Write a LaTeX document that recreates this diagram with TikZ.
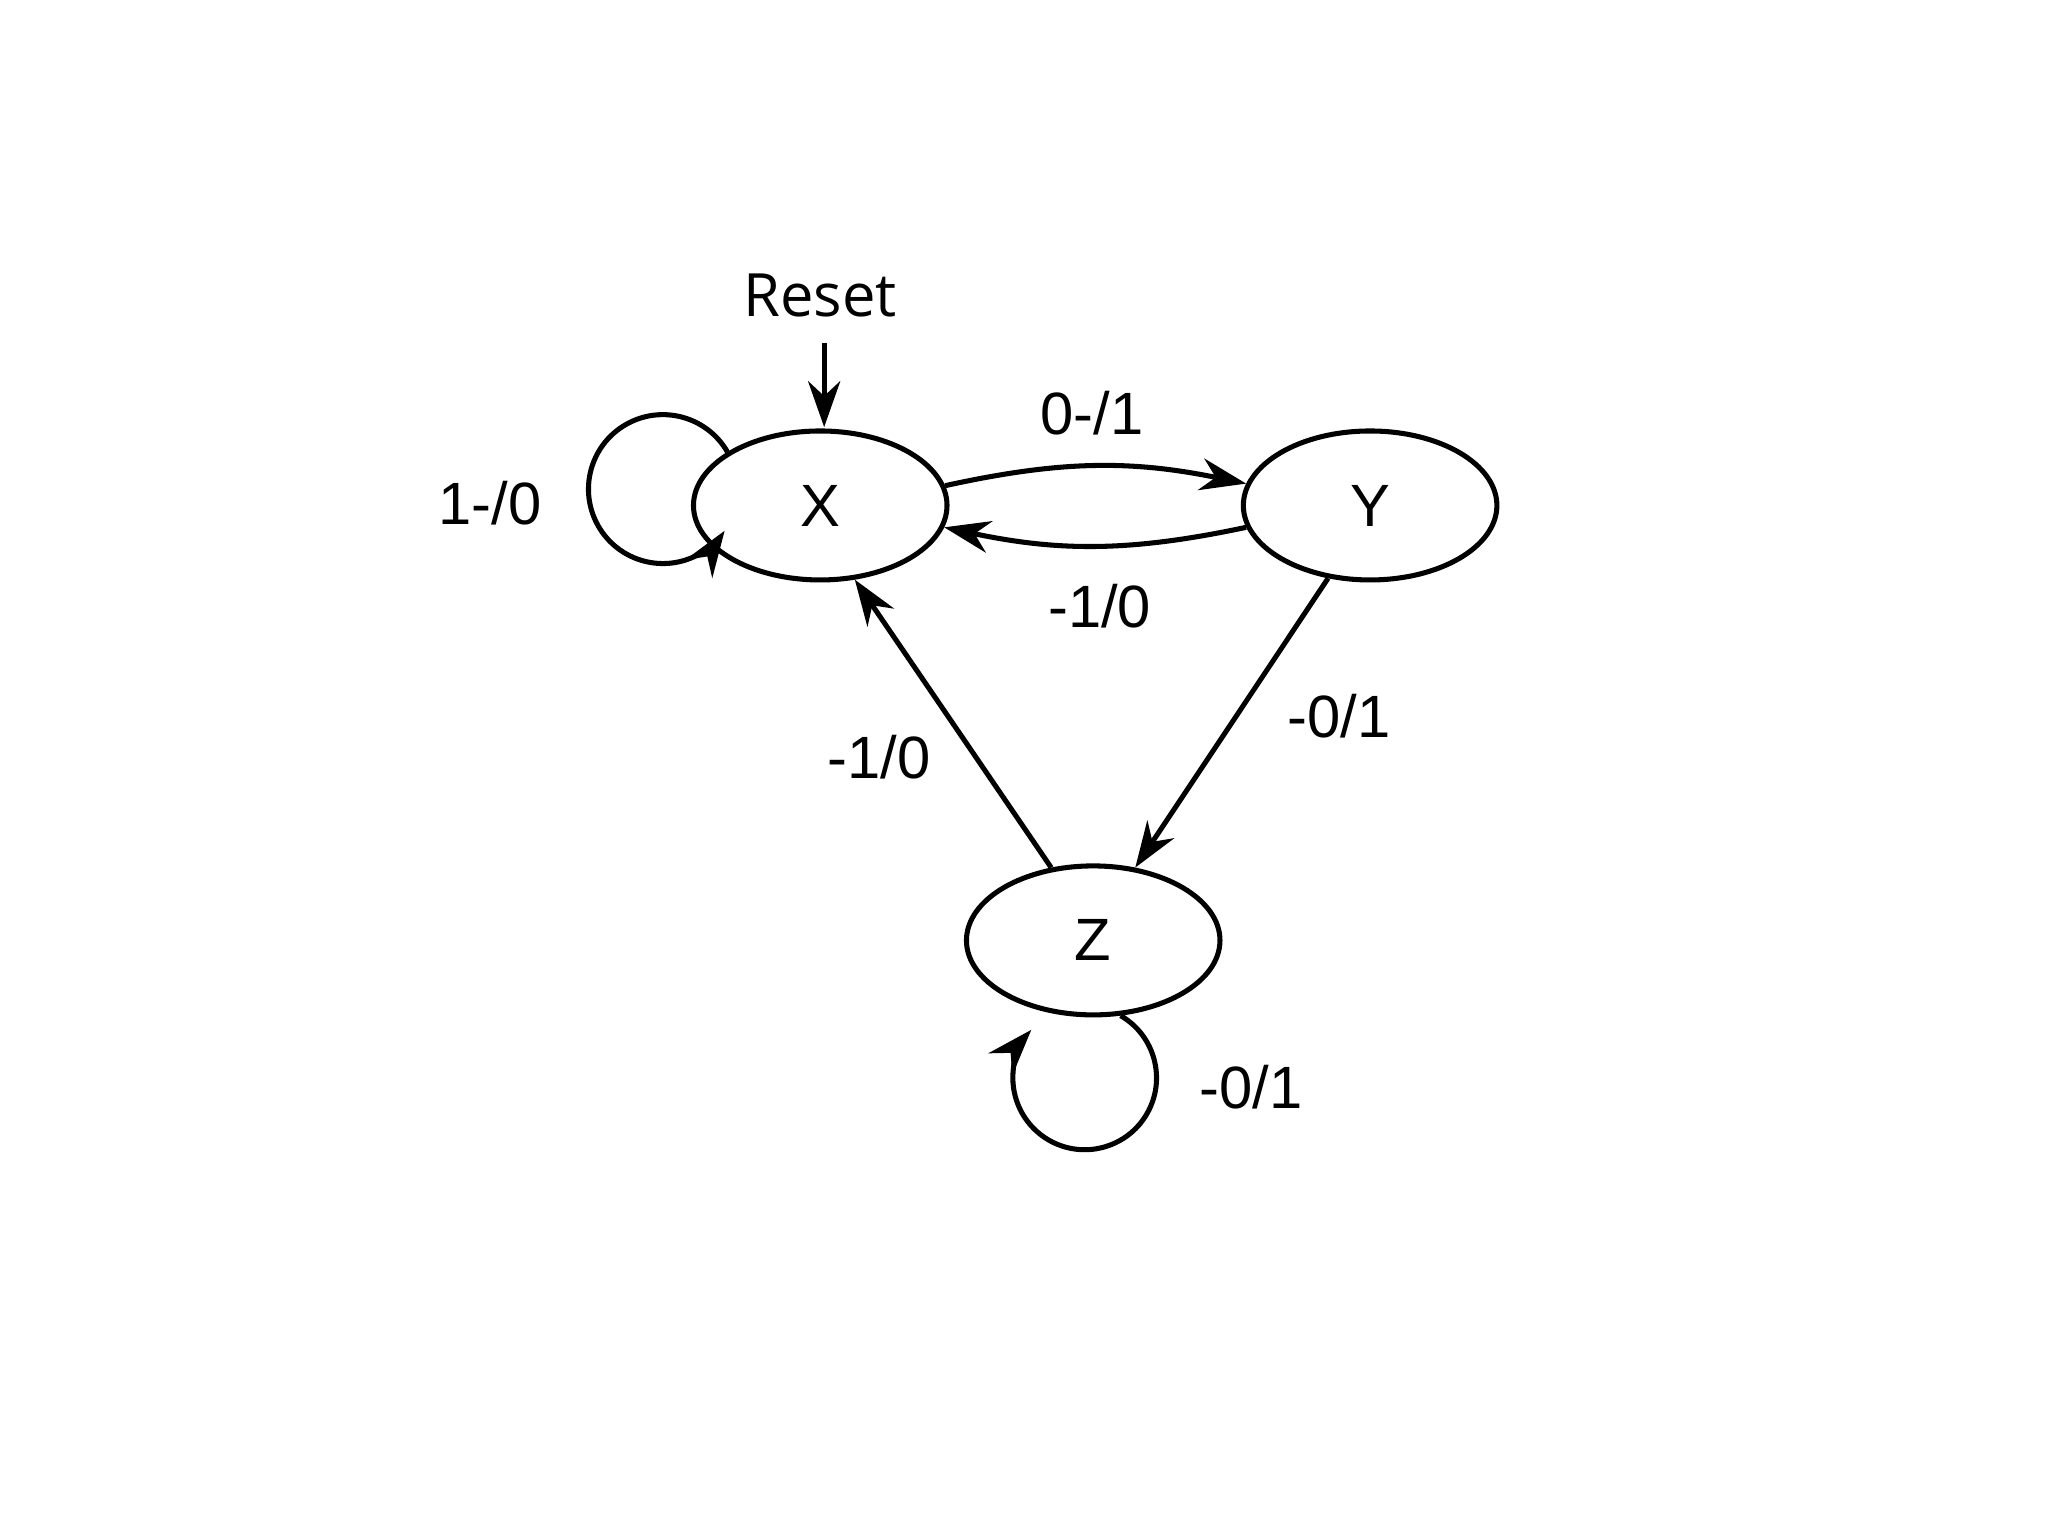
\documentclass[tikz,border=0pt]{standalone}
\usepackage{fontspec}
\setmainfont{Liberation Sans}
\newfontfamily\resetfont{Open Sans}
\usetikzlibrary{shapes.geometric,arrows.meta}
\begin{document}
\begin{tikzpicture}[x=0.01cm,y=0.01cm,
  st/.style={draw,ellipse,line width=1.1pt,minimum width=1.94cm,minimum height=1.14cm,inner sep=0pt,font=\fontsize{13}{15}\selectfont},
  lab/.style={font=\fontsize{13}{15}\selectfont},
  ed/.style={line width=1.1pt,-{Stealth[length=10pt,width=7pt]}}]
\useasboundingbox (0,0) rectangle (1568,-1176);
\node[st] (X) at (628,-387) {X};
\node[st] (Y) at (1049,-387) {Y};
\node[st] (Z) at (837,-720) {Z};
\node[font=\resetfont\fontsize{13}{15}\selectfont] (R) at (628,-226) {Reset};
\draw[ed] (R.south -| X.north) ++(3,-8) coordinate (r0) -- (631,-327) coordinate (r1);
\draw[ed] (X.9) to[bend left=12] (Y.170);
\draw[ed] (Y.190) to[bend left=12] (X.350);
\draw[ed] (Y.-120) -- (Z.60);
\draw[ed] (Z.120) -- (X.-65);
\draw[ed] (X.150) arc[start angle=30,end angle=326,radius=57];
\draw[ed] (Z.-70) arc[start angle=60,end angle=-222,radius=55];
\node[lab] (l1) at (375,-385) {1-/0};
\node[lab] (l2) at (836,-316) {0-/1};
\node[lab] (l3) at (842,-464) {-1/0};
\node[lab] (l4) at (1025,-548) {-0/1};
\node[lab] (l5) at (673,-580) {-1/0};
\node[lab] (l6) at (958,-832) {-0/1};
\end{tikzpicture}
\end{document}
